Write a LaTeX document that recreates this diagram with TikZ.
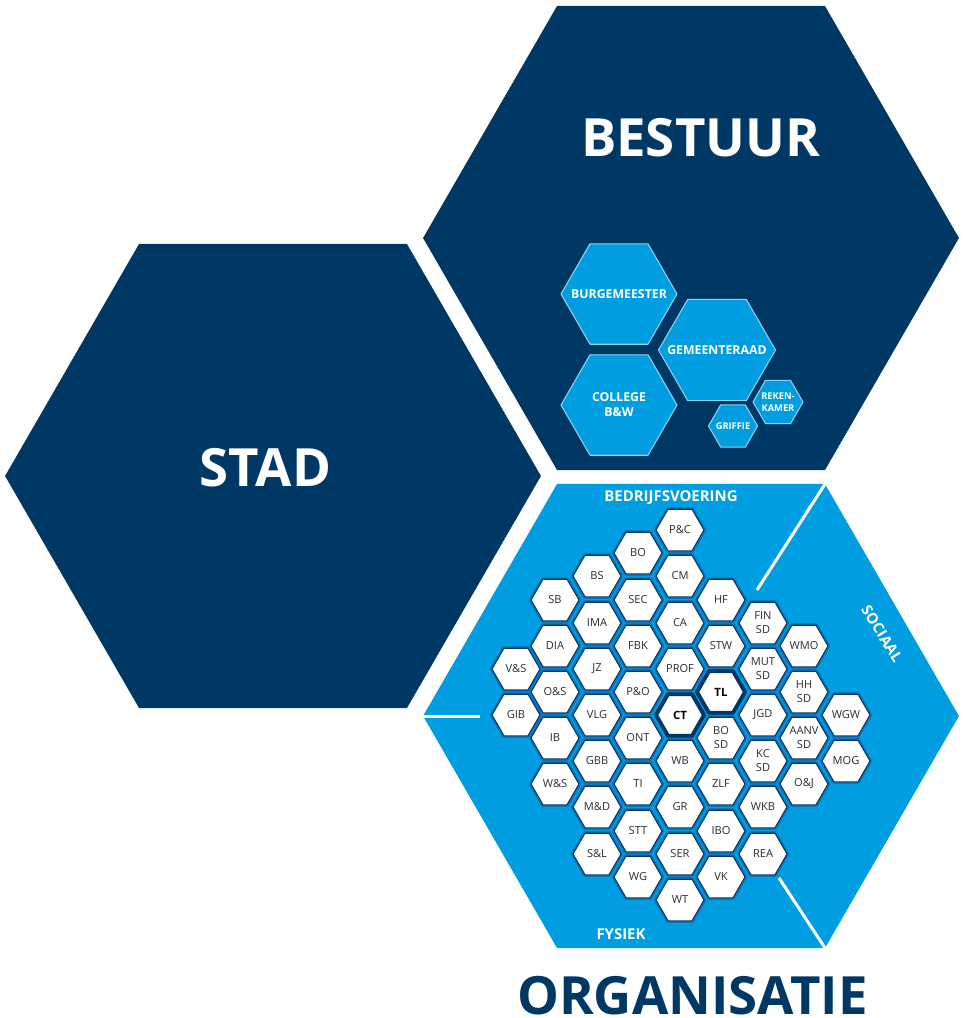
\documentclass[tikz,border=0pt]{standalone}
\usepackage{fontspec}
\setmainfont{Open Sans}
\usepackage{tikz}
\usetikzlibrary{shapes.geometric}
\definecolor{navy}{RGB}{0,56,101}
\definecolor{cyaan}{RGB}{0,158,224}
\definecolor{ringblauw}{RGB}{14,118,188}
\definecolor{tekstgrijs}{RGB}{45,45,45}

\begin{document}
\begin{tikzpicture}[line cap=round,line join=round,x=0.02cm,y=-0.02cm,
  bighex/.style={regular polygon,regular polygon sides=6,minimum size=10.72cm,inner sep=0pt},
  besthex/.style={regular polygon,regular polygon sides=6,inner sep=0pt,fill=cyaan,
    draw=white!55!cyaan,line width=0.6pt},
  besttekst/.style={text=white,align=center,font=\bfseries\fontsize{7}{8.5}\selectfont},
  kleintekst/.style={besttekst,font=\bfseries\fontsize{5.3}{6.8}\selectfont},
  cel/.style={regular polygon,regular polygon sides=6,minimum size=0.96cm,inner sep=0pt,
    fill=white,draw=navy,line width=0.6pt,preaction={draw=ringblauw,line width=2.4pt},
    text=tekstgrijs,align=center,font=\fontsize{6.3}{8}\selectfont},
  kerncel/.style={cel,line width=2.2pt,font=\bfseries\fontsize{6.5}{8}\selectfont,text=black},
  titel/.style={text=white,font=\bfseries\fontsize{30}{30}\selectfont},
  sector/.style={text=white,font=\bfseries\fontsize{8.5}{9}\selectfont},
  scheiding/.style={draw=white,line width=1.7pt,line cap=butt}]
\useasboundingbox (0,0) rectangle (965,1018);

\node[bighex,fill=navy] (stad) at (273,476) {};
\node[bighex,fill=navy] (bestuur) at (691,238) {};
\node[bighex,fill=cyaan] (organisatie) at (691,716) {};

\node[titel] (stadtitel) at (265.5,468) {STAD};
\node[titel] (bestuurtitel) at (700.5,137.5) {BESTUUR};
\node[titel,text=navy] (orgtitel) at (692.5,996) {ORGANISATIE};

\node[besthex,minimum size=2.32cm,label={[besttekst]center:BURGEMEESTER}] (burgemeester) at (619,294) {};
\node[besthex,minimum size=2.32cm,label={[besttekst]center:COLLEGE\\B\&W}] (college) at (619,405) {};
\node[besthex,minimum size=2.34cm,label={[besttekst]center:GEMEENTERAAD}] (raad) at (717,350) {};
\node[besthex,minimum size=0.98cm,label={[kleintekst]center:GRIFFIE}] (griffie) at (733,426) {};
\node[besthex,minimum size=1.0cm,label={[kleintekst]center:REKEN-\\KAMER}] (rekenkamer) at (778,402) {};

\draw[scheiding] (423,716) -- (480,716);
\draw[scheiding] (825,484) -- (757,590);
\draw[scheiding] (825,948) -- (779,878);

\node[sector] (bedrijfsvoering) at (671,498) {BEDRIJFSVOERING};
\node[sector,rotate=-58] (sociaal) at (882,634) {SOCIAAL};
\node[sector] (fysiek) at (621,934) {FYSIEK};

\node[cel] (vs) at (516,669) {V\&S};
\node[cel] (gib) at (516,715) {GIB};

\node[cel] (sb) at (555,600) {SB};
\node[cel] (dia) at (555,646) {DIA};
\node[cel] (os) at (555,692) {O\&S};
\node[cel] (ib) at (555,738) {IB};
\node[cel] (ws) at (555,784) {W\&S};

\node[cel] (bs) at (597,576) {BS};
\node[cel] (ima) at (597,623) {IMA};
\node[cel] (jz) at (597,669) {JZ};
\node[cel] (vlg) at (597,715) {VLG};
\node[cel] (gbb) at (597,761) {GBB};
\node[cel] (md) at (597,807) {M\&D};
\node[cel] (sl) at (597,854) {S\&L};

\node[cel] (bo) at (638,553) {BO};
\node[cel] (sec) at (638,600) {SEC};
\node[cel] (fbk) at (638,646) {FBK};
\node[cel] (po) at (638,692) {P\&O};
\node[cel] (ont) at (638,738) {ONT};
\node[cel] (ti) at (638,784) {TI};
\node[cel] (stt) at (638,831) {STT};
\node[cel] (wg) at (638,877) {WG};

\node[cel] (pc) at (680,530) {P\&C};
\node[cel] (cm) at (680,576) {CM};
\node[cel] (ca) at (680,623) {CA};
\node[cel] (prof) at (680,669) {PROF};
\node[kerncel] (ct) at (680,715) {CT};
\node[cel] (wb) at (680,761) {WB};
\node[cel] (gr) at (680,807) {GR};
\node[cel] (ser) at (680,854) {SER};
\node[cel] (wt) at (680,900) {WT};

\node[cel] (hf) at (721,600) {HF};
\node[cel] (stw) at (721,646) {STW};
\node[kerncel] (tl) at (721,692) {TL};
\node[cel] (bosd) at (721,738) {BO\\SD};
\node[cel] (zlf) at (721,784) {ZLF};
\node[cel] (ibo) at (721,831) {IBO};
\node[cel] (vk) at (721,877) {VK};

\node[cel] (finsd) at (763,623) {FIN\\SD};
\node[cel] (mutsd) at (763,669) {MUT\\SD};
\node[cel] (jgd) at (763,715) {JGD};
\node[cel] (kcsd) at (763,761) {KC\\SD};
\node[cel] (wkb) at (763,807) {WKB};
\node[cel] (rea) at (763,854) {REA};

\node[cel] (wmo) at (804,646) {WMO};
\node[cel] (hhsd) at (804,692) {HH\\SD};
\node[cel] (aanvsd) at (804,738) {AANV\\SD};
\node[cel] (oj) at (804,784) {O\&J};

\node[cel] (wgw) at (846,715) {WGW};
\node[cel] (mog) at (846,761) {MOG};
\end{tikzpicture}
\end{document}
